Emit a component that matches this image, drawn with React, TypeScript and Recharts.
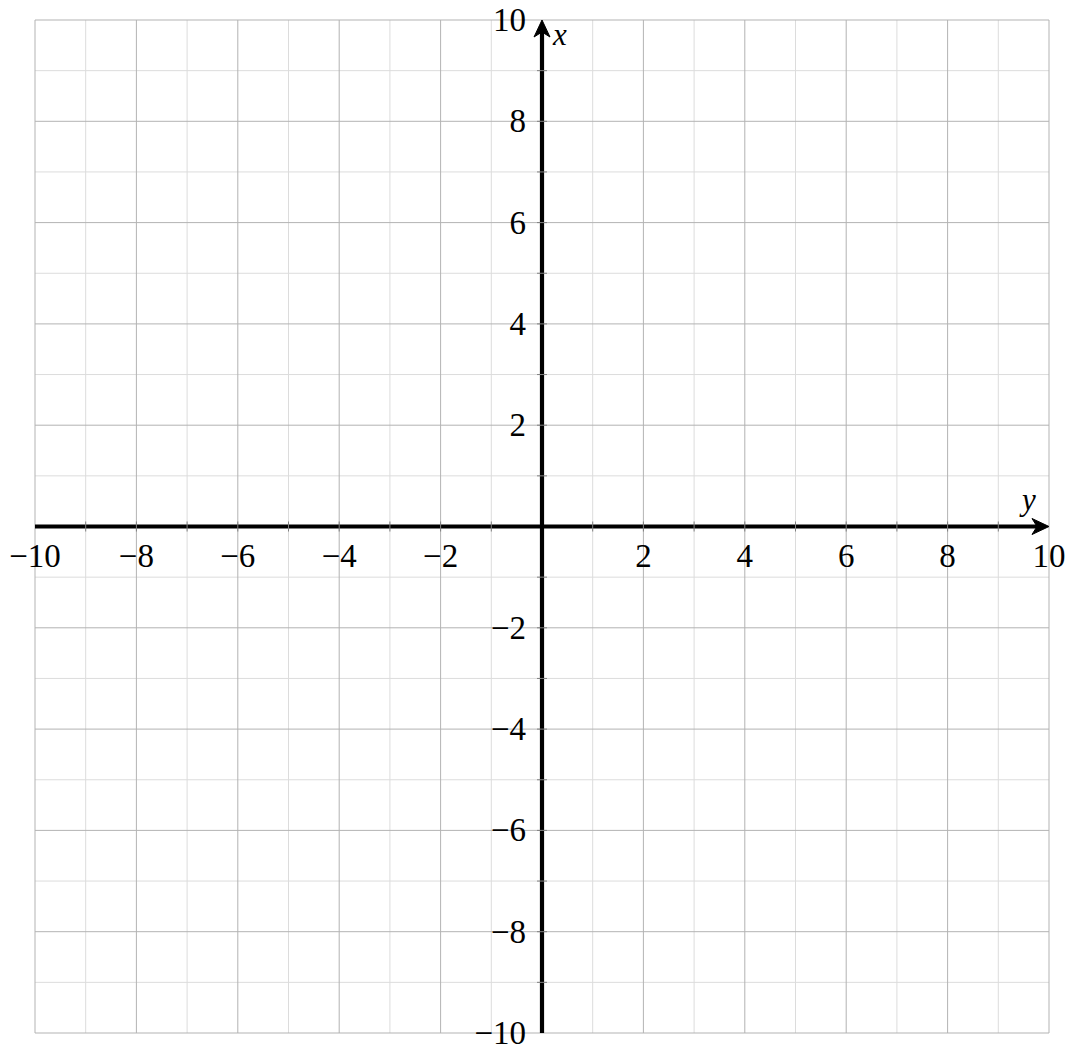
import React from 'react';
import { ScatterChart, XAxis, YAxis, ReferenceLine, Scatter } from 'recharts';

const DOMAIN: [number, number] = [-10, 10];
const minorLines = [-9, -7, -5, -3, -1, 1, 3, 5, 7, 9];
const majorLines = [-10, -8, -6, -4, -2, 0, 2, 4, 6, 8, 10];
const xTickLabels = [-10, -8, -6, -4, -2, 2, 4, 6, 8, 10];
const yTickLabels = [10, 8, 6, 4, 2, -2, -4, -6, -8, -10];
const axisTicks = [-9, -8, -7, -6, -5, -4, -3, -2, -1, 1, 2, 3, 4, 5, 6, 7, 8, 9];
const xAxisName = 'x';
const yAxisName = 'y';

const FONT = 'Liberation Serif, DejaVu Serif, Times New Roman, serif';
const fmt = (v: number) => (v < 0 ? '\u2212' + Math.abs(v) : String(v));

const xLabelData = xTickLabels.map((v) => ({ x: v, y: 0, label: fmt(v) }));
const yLabelData = yTickLabels.map((v) => ({ x: 0, y: v, label: fmt(v) }));
const xTickData = axisTicks.map((v) => ({ x: v, y: 0 }));
const yTickData = axisTicks.map((v) => ({ x: 0, y: v }));
const xNameData = [{ x: 0, y: 10, label: xAxisName }];
const yNameData = [{ x: 10, y: 0, label: yAxisName }];

const textStyle: React.CSSProperties = { fontFamily: FONT, fontSize: 33 };
const italicStyle: React.CSSProperties = { fontFamily: FONT, fontSize: 31, fontStyle: 'italic' };

const HAxis = (props: any) => {
  const { x1, x2, y1 } = props;
  const tip = Math.max(x1, x2);
  const start = Math.min(x1, x2);
  return (
    <g>
      <line x1={start} y1={y1} x2={tip - 10} y2={y1} stroke="#000" strokeWidth={4.2} />
      <path d={`M${tip},${y1} L${tip - 17},${y1 - 8} L${tip - 12},${y1} L${tip - 17},${y1 + 8} Z`} fill="#000" stroke="#000" strokeWidth={1} strokeLinejoin="round" />
    </g>
  );
};

const VAxis = (props: any) => {
  const { x1, y1, y2 } = props;
  const tip = Math.min(y1, y2);
  const end = Math.max(y1, y2);
  return (
    <g>
      <line x1={x1} y1={end} x2={x1} y2={tip + 10} stroke="#000" strokeWidth={4.2} />
      <path d={`M${x1},${tip} L${x1 - 8},${tip + 17} L${x1},${tip + 12} L${x1 + 8},${tip + 17} Z`} fill="#000" stroke="#000" strokeWidth={1} strokeLinejoin="round" />
    </g>
  );
};

const XLabel = (p: any) => (
  <text x={p.cx} y={p.cy + 40} textAnchor="middle" style={textStyle} fill="#000">
    {p.payload.label}
  </text>
);

const YLabel = (p: any) => (
  <text x={p.cx - 16} y={p.cy + 11} textAnchor="end" style={textStyle} fill="#000">
    {p.payload.label}
  </text>
);

const XTick = (p: any) => (
  <line x1={p.cx} y1={p.cy - 5} x2={p.cx} y2={p.cy + 5} stroke="#808080" strokeWidth={1} />
);

const YTick = (p: any) => (
  <line x1={p.cx - 5} y1={p.cy} x2={p.cx + 5} y2={p.cy} stroke="#808080" strokeWidth={1} />
);

const XName = (p: any) => (
  <text x={p.cx + 11} y={p.cy + 25} textAnchor="start" style={italicStyle} fill="#000">
    {p.payload.label}
  </text>
);

const YName = (p: any) => (
  <text x={p.cx - 27} y={p.cy - 17} textAnchor="start" style={italicStyle} fill="#000">
    {p.payload.label}
  </text>
);

export default function App() {
  return (
    <div style={{ position: 'absolute', left: 0, top: 0, width: 1070, height: 1050, fontFamily: FONT }}>
      <ScatterChart width={1070} height={1050} margin={{ top: 20, right: 21, bottom: 17, left: 35 }}>
        <XAxis type="number" dataKey="x" domain={DOMAIN} hide />
        <YAxis type="number" dataKey="y" domain={DOMAIN} hide />
        {minorLines.map((v) => (
          <ReferenceLine key={'mx' + v} x={v} stroke="#dcdcdc" strokeWidth={1} />
        ))}
        {minorLines.map((v) => (
          <ReferenceLine key={'my' + v} y={v} stroke="#dcdcdc" strokeWidth={1} />
        ))}
        {majorLines.map((v) => (
          <ReferenceLine key={'Mx' + v} x={v} stroke="#b3b3b3" strokeWidth={1} />
        ))}
        {majorLines.map((v) => (
          <ReferenceLine key={'My' + v} y={v} stroke="#b3b3b3" strokeWidth={1} />
        ))}
        <Scatter data={xTickData} shape={XTick} isAnimationActive={false} />
        <Scatter data={yTickData} shape={YTick} isAnimationActive={false} />
        <ReferenceLine y={0} shape={HAxis} />
        <ReferenceLine x={0} shape={VAxis} />
        <Scatter data={xLabelData} shape={XLabel} isAnimationActive={false} />
        <Scatter data={yLabelData} shape={YLabel} isAnimationActive={false} />
        <Scatter data={xNameData} shape={XName} isAnimationActive={false} />
        <Scatter data={yNameData} shape={YName} isAnimationActive={false} />
      </ScatterChart>
    </div>
  );
}
